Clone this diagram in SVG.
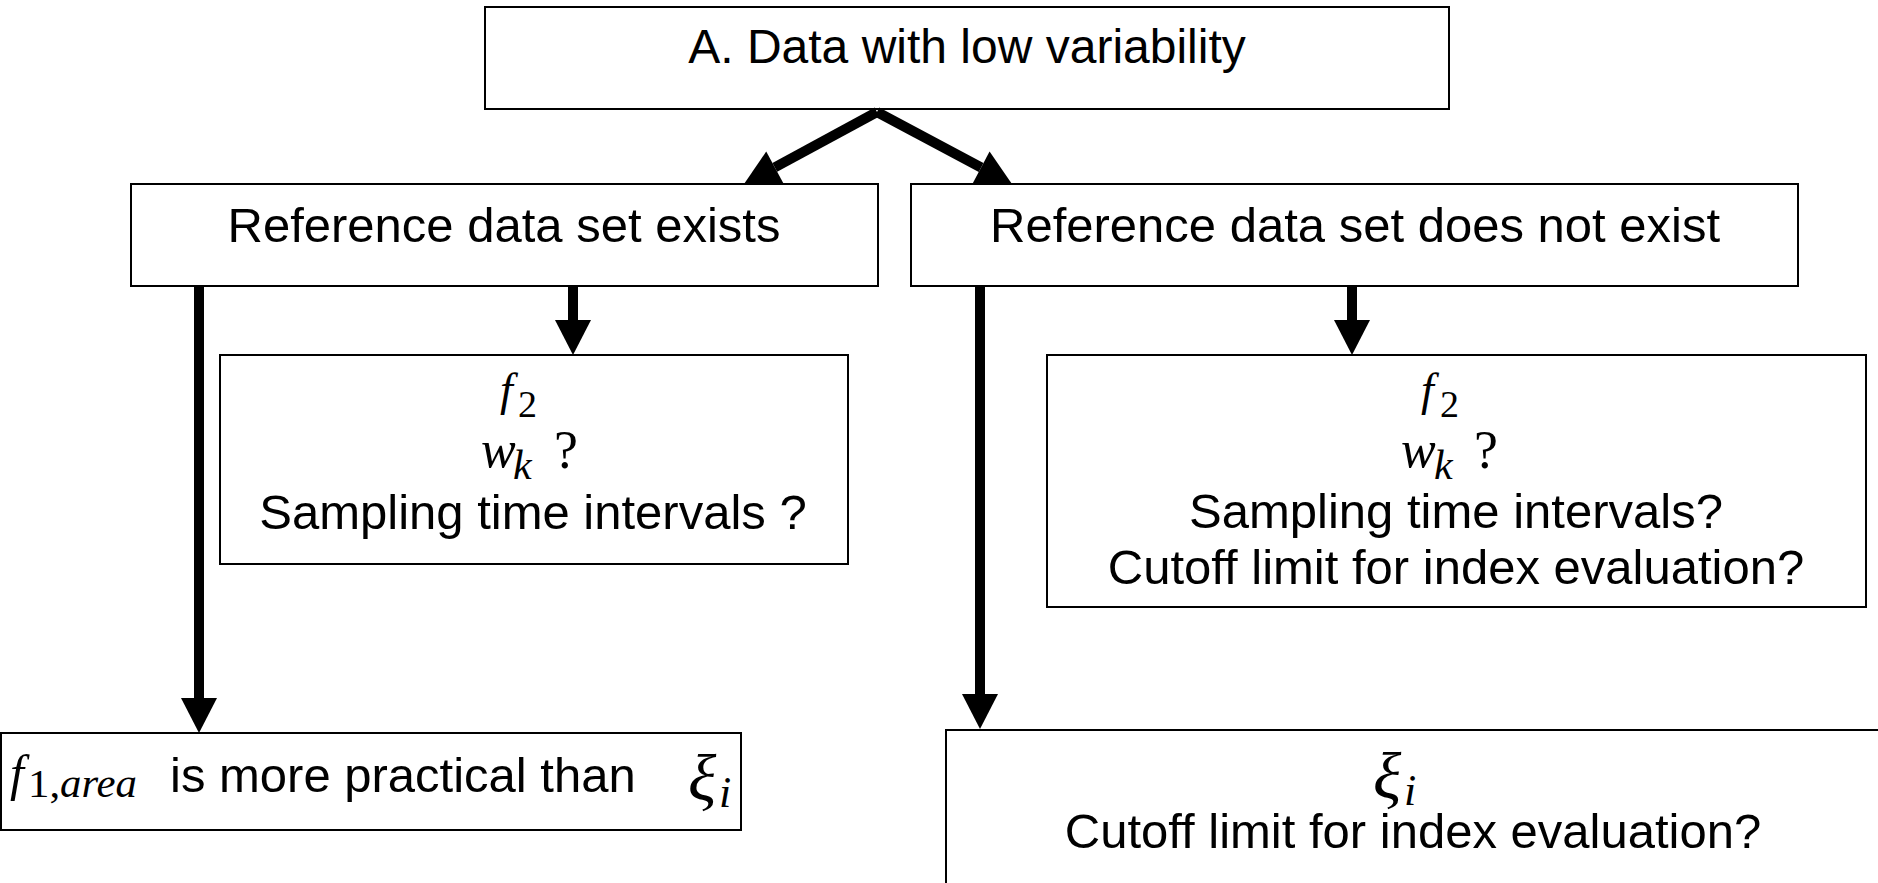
<svg xmlns="http://www.w3.org/2000/svg" width="1878" height="883" viewBox="0 0 1878 883">
<style>
.box{fill:#fff;stroke:#000;stroke-width:2}
.t{font-family:"Liberation Sans",Arial,sans-serif;font-size:49px;fill:#000}
.m{font-family:"Liberation Serif","Times New Roman",serif;fill:#000}
.i{font-style:italic}
.c{stroke:#000;stroke-width:10;fill:none}
</style>
<defs>
<marker id="ah" markerUnits="userSpaceOnUse" markerWidth="36" markerHeight="36" refX="0" refY="18" orient="auto" overflow="visible">
<path d="M0,0 L35,18 L0,36 z" fill="#000"/>
</marker>
</defs>
<rect width="1878" height="883" fill="#fff"/>
<g id="top"><rect class="box" x="485" y="7" width="964" height="102"/>
<text class="t" x="967" y="63" text-anchor="middle" style="font-size:48px">A. Data with low variability</text></g>
<g id="exists"><rect class="box" x="131" y="184" width="747" height="102"/>
<text class="t" x="504" y="242" text-anchor="middle">Reference data set exists</text></g>
<g id="notexist"><rect class="box" x="911" y="184" width="887" height="102"/>
<text class="t" x="1355" y="242" text-anchor="middle">Reference data set does not exist</text></g>
<g id="left-q"><rect class="box" x="220" y="355" width="628" height="209"/>
<text class="m"><tspan class="i" x="500" y="405" font-size="46">f</tspan><tspan x="518" y="417" font-size="38">2</tspan></text>
<text class="m"><tspan class="i" x="481" y="467" font-size="52">w</tspan><tspan class="i" x="513" y="479" font-size="42">k</tspan><tspan x="554" y="468" font-size="54">?</tspan></text>
<text class="t" x="533" y="529" text-anchor="middle">Sampling time intervals ?</text></g>
<g id="right-q"><rect class="box" x="1047" y="355" width="819" height="252"/>
<text class="m"><tspan class="i" x="1421" y="405" font-size="46">f</tspan><tspan x="1440" y="417" font-size="38">2</tspan></text>
<text class="m"><tspan class="i" x="1401" y="467" font-size="52">w</tspan><tspan class="i" x="1434" y="479" font-size="42">k</tspan><tspan x="1474" y="468" font-size="54">?</tspan></text>
<text class="t" x="1456" y="528" text-anchor="middle">Sampling time intervals?</text>
<text class="t" x="1456" y="584" text-anchor="middle">Cutoff limit for index evaluation?</text></g>
<g id="practical"><rect class="box" x="1" y="733" width="740" height="97"/>
<text class="m i" x="10" y="790" font-size="50">f</text>
<text class="m" x="28" y="797" font-size="39" textLength="109" lengthAdjust="spacingAndGlyphs">1,<tspan class="i">area</tspan></text>
<text class="t" x="170" y="792">is more practical than</text>
<text class="m"><tspan class="i" x="688" y="800" font-size="66">ξ</tspan><tspan class="i" x="719" y="807" font-size="44">i</tspan></text></g>
<g id="xi-cutoff"><rect class="box" x="946" y="730" width="940" height="170"/>
<text class="m"><tspan class="i" x="1373" y="798" font-size="66">ξ</tspan><tspan class="i" x="1404" y="805" font-size="44">i</tspan></text>
<text class="t" x="1413" y="848" text-anchor="middle">Cutoff limit for index evaluation?</text></g>
<g id="connectors">
<line class="c" x1="877" y1="112" x2="774.8" y2="167.3" marker-end="url(#ah)"/>
<line class="c" x1="877" y1="112" x2="981.1" y2="167.5" marker-end="url(#ah)"/>
<line class="c" x1="199" y1="286" x2="199" y2="698" marker-end="url(#ah)"/>
<line class="c" x1="573" y1="286" x2="573" y2="320" marker-end="url(#ah)"/>
<line class="c" x1="980" y1="286" x2="980" y2="694" marker-end="url(#ah)"/>
<line class="c" x1="1352" y1="286" x2="1352" y2="320" marker-end="url(#ah)"/>
</g>
</svg>
